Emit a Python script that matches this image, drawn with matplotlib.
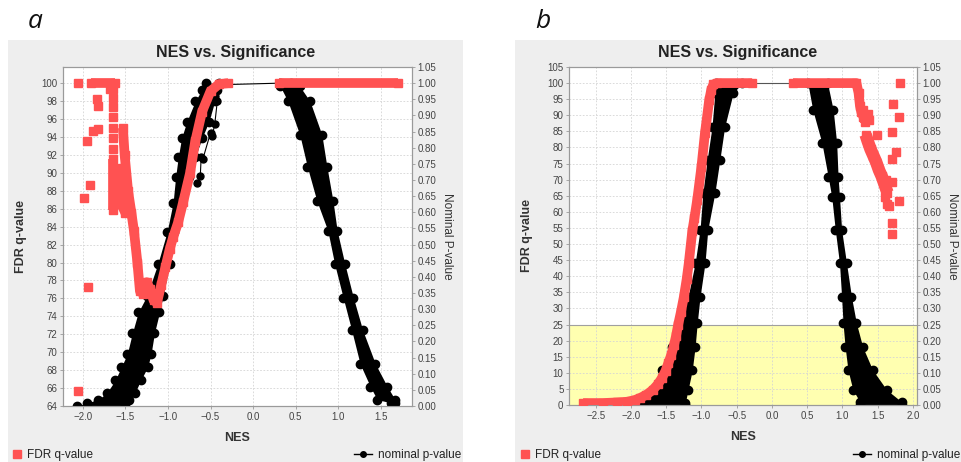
import matplotlib
matplotlib.use("Agg")
import matplotlib.pyplot as plt
from matplotlib.lines import Line2D
from matplotlib.patches import Rectangle
from matplotlib.transforms import blended_transform_factory

RED = '#ff5252'
GRAY_BG = '#eeeeee'
TXT = '#444444'
W, H = 962, 462

plt.rcParams['font.family'] = ['Liberation Sans', 'DejaVu Sans']

# ---------------- panel a data ----------------
# nominal p-value, left (negative NES) band: p level, left / right edge of the cloud
a_neg_p = [0.0, 0.01, 0.02, 0.04, 0.08, 0.12, 0.16, 0.225, 0.29, 0.34, 0.44, 0.54,
           0.63, 0.71, 0.77, 0.83, 0.88, 0.944, 0.98, 1.0]
a_neg_left = [-2.07, -1.95, -1.82, -1.72, -1.62, -1.55, -1.48, -1.42, -1.35, -1.25, -1.12, -1.01,
              -0.94, -0.91, -0.88, -0.84, -0.78, -0.68, -0.60, -0.55]
a_neg_right = [-1.51, -1.50, -1.46, -1.39, -1.32, -1.24, -1.20, -1.16, -1.10, -1.06, -0.98, -0.93,
               -0.84, -0.75, -0.68, -0.60, -0.52, -0.45, -0.42, -0.40]
# right (positive NES) band
a_pos_p = [0.01, 0.02, 0.06, 0.13, 0.235, 0.336, 0.44, 0.543, 0.636, 0.74, 0.84, 0.944, 0.99, 1.0]
a_pos_left = [1.62, 1.46, 1.38, 1.26, 1.16, 1.06, 0.96, 0.88, 0.75, 0.64, 0.55, 0.41, 0.32, 0.32]
a_pos_right = [1.67, 1.67, 1.58, 1.44, 1.29, 1.18, 1.08, 0.99, 0.94, 0.87, 0.81, 0.67, 0.55, 0.45]
# stray p-value points right of the negative band
a_stray_nes = [-0.66, -0.62, -0.61, -0.59, -0.50, -0.48, -0.45, -0.42, -0.45]
a_stray_p = [0.69, 0.713, 0.77, 0.765, 0.846, 0.836, 0.873, 0.944, 0.96]
# connecting line between the two bands
a_top_nes = [-0.40, 0.32]
a_top_p = [0.995, 1.0]

# FDR q-value
a_fdr_nes = [-1.53, -1.51, -1.47, -1.43, -1.40, -1.36, -1.33, -1.29, -1.25, -1.21, -1.17, -1.13,
             -1.08, -1.03, -0.98, -0.94, -0.88, -0.82, -0.74, -0.68, -0.60, -0.50, -0.40, -0.29]
a_fdr_q = [95.0, 92.0, 88.0, 85.5, 83.5, 80.0, 76.8, 76.5, 77.8, 77.0, 75.8, 75.5,
           77.5, 79.5, 81.5, 82.8, 84.5, 86.8, 90.0, 93.5, 96.8, 99.1, 99.9, 100.0]
a_fdr_col_nes = [-1.645, -1.645, -1.57, -1.55, -1.50]
a_fdr_col_q = [91.5, 85.8, 90.5, 86.5, 85.5]
a_fdr_top_nes = [-1.91, -1.62]
a_fdr_plateau_nes = [0.30, 1.71]
a_fdr_dots_nes = [-2.06, -1.68, -1.83, -1.82, -1.88, -1.82, -1.95, -1.92, -1.99, -1.94, -2.06,
                  -1.65, -1.65, -1.65, -1.65, -1.65, -1.65, -1.65]
a_fdr_dots_q = [100.0, 99.3, 98.2, 97.4, 94.7, 94.9, 93.6, 88.6, 87.2, 77.3, 65.7,
                99.4, 98.3, 97.3, 96.2, 95.0, 93.9, 92.7]

# ---------------- panel b data ----------------
b_neg_p = [0.0, 0.006, 0.047, 0.109, 0.18, 0.254, 0.336, 0.44, 0.544, 0.658, 0.76, 0.864, 0.969, 1.0]
b_neg_left = [-1.83, -1.83, -1.69, -1.56, -1.42, -1.30, -1.19, -1.09, -1.02, -0.98, -0.92, -0.85, -0.81, -0.80]
b_neg_right = [-1.23, -1.23, -1.19, -1.13, -1.09, -1.06, -1.02, -0.95, -0.91, -0.81, -0.74, -0.67, -0.55, -0.42]
b_pos_p = [0.0, 0.01, 0.047, 0.109, 0.18, 0.254, 0.336, 0.44, 0.544, 0.646, 0.708, 0.814, 0.917, 1.0]
b_pos_left = [1.25, 1.25, 1.15, 1.08, 1.04, 1.01, 0.99, 0.96, 0.90, 0.85, 0.80, 0.71, 0.58, 0.51]
b_pos_right = [1.84, 1.84, 1.63, 1.43, 1.29, 1.20, 1.13, 1.06, 0.99, 0.96, 0.94, 0.92, 0.87, 0.79]
b_top_nes = [-0.42, 0.51]
b_top_p = [1.0, 1.0]

b_fdr_nes = [-2.68, -2.40, -2.20, -2.06, -1.95, -1.87, -1.78, -1.69, -1.62, -1.56, -1.51, -1.47,
             -1.43, -1.39, -1.36, -1.33, -1.29, -1.25, -1.21, -1.18, -1.13, -1.10, -1.06, -1.00,
             -0.95, -0.89, -0.86, -0.83, -0.78, -0.28]
b_fdr_q = [0.6, 0.6, 0.8, 1.0, 1.5, 2.2, 3.2, 4.7, 6.4, 8.4, 10.6, 13.0,
           15.5, 18.5, 21.5, 25.0, 29.0, 33.5, 39.0, 44.0, 54.0, 58.0, 63.7, 74.0,
           84.5, 94.7, 98.0, 99.6, 100.0, 100.0]
b_fdr_pos_nes = [0.30, 1.20, 1.23, 1.25, 1.27, 1.30, 1.32]
b_fdr_pos_q = [100.0, 100.0, 97.0, 93.0, 91.0, 89.5, 88.0]
b_fdr_drop_nes = [1.33, 1.36, 1.40, 1.44, 1.48, 1.52, 1.56, 1.60, 1.64]
b_fdr_drop_q = [84.0, 82.0, 79.5, 77.5, 75.5, 73.0, 71.0, 68.5, 66.0]
b_fdr_dots_nes = [1.82, 1.72, 1.80, 1.70, 1.76, 1.70, 1.70, 1.80, 1.70, 1.70,
                  1.49, 1.36, 1.30, 1.60, 1.63, 1.66, 1.62, 1.38]
b_fdr_dots_q = [100.0, 93.5, 89.5, 84.8, 78.6, 76.5, 69.3, 63.4, 56.5, 53.0,
                83.9, 90.5, 91.5, 64.5, 62.5, 61.8, 70.0, 88.5]


def make_axes(fig, left, top, right, bottom, xlim, qlim, xticks, qticks, yellow=None):
    rect = [left / W, (H - bottom) / H, (right - left) / W, (bottom - top) / H]
    ax = fig.add_axes(rect)
    ax2 = ax.twinx()
    # red FDR series on top of black p-value series
    ax.set_zorder(ax2.get_zorder() + 1)
    ax.patch.set_visible(False)
    ax2.patch.set_visible(True)
    ax2.patch.set_facecolor('white')

    ax.set_xlim(*xlim)
    ax.set_ylim(*qlim)
    ax2.set_ylim(0, 1.05)
    ax.set_xticks(xticks)
    ax.set_xticklabels([f"{v:.1f}".replace('-', '\u2212') for v in xticks])
    ax.set_yticks(qticks)
    ax.set_yticklabels([str(v) for v in qticks])
    pt = [i * 0.05 for i in range(22)]
    ax2.set_yticks(pt)
    ax2.set_yticklabels([f"{v:.2f}" for v in pt])

    if yellow is not None:
        ax2.axhspan(0, yellow, color='#ffffb0', lw=0, zorder=0.2)
        ax2.axhline(yellow, color='#a0a0a0', lw=0.8, zorder=0.6)

    grid_kw = dict(color='#d4d4d4', lw=0.6, ls=(0, (2, 2)), zorder=0.5)
    ax2.vlines(xticks, 0, 1, transform=blended_transform_factory(ax2.transData, ax2.transAxes), **grid_kw)
    ax2.hlines(qticks, 0, 1, transform=blended_transform_factory(ax2.transAxes, ax.transData), **grid_kw)

    for a in (ax, ax2):
        for s in a.spines.values():
            s.set_color('#9a9a9a')
            s.set_linewidth(0.8)
        a.tick_params(labelsize=7, colors='#9a9a9a', labelcolor=TXT, length=2, width=0.6, pad=2)

    ax.set_xlabel('NES', fontsize=9, fontweight='bold', color='#333333')
    ax.xaxis.set_label_coords(0.5, -0.077)
    ax.set_ylabel('FDR q-value', fontsize=9, fontweight='bold', color='#333333')
    ax.yaxis.set_label_coords(-0.103, 0.5)
    ax2.set_ylabel('Nominal P-value', fontsize=8.5, color='#333333', rotation=270, va='center')
    ax2.yaxis.set_label_coords(1.10, 0.5)
    return ax, ax2


def draw_band(ax2, p, left, right):
    ax2.fill_betweenx(p, left, right, color='black', lw=0, zorder=2)
    ax2.plot(left, p, 'o', color='black', ms=6, zorder=3)
    ax2.plot(right, p, 'o', color='black', ms=6, zorder=3)


def draw_fdr(ax, nes, q, lw=7):
    ax.plot(nes, q, '-', color=RED, lw=lw, solid_capstyle='butt', solid_joinstyle='round', zorder=3)
    ax.plot(nes, q, 's', color=RED, ms=5.2, zorder=3)


fig = plt.figure(figsize=(W / 100, H / 100), dpi=100)
fig.add_artist(Rectangle((8 / W, 0), (463 - 8) / W, 422 / H, transform=fig.transFigure,
                         color=GRAY_BG, lw=0, zorder=-5))
fig.add_artist(Rectangle((515 / W, 0), (962 - 515) / W, 422 / H, transform=fig.transFigure,
                         color=GRAY_BG, lw=0, zorder=-5))

# ---- panel a ----
axa, axa2 = make_axes(fig, 63, 67, 412, 406, (-2.235, 1.87), (64, 101.8),
                      [-2.0, -1.5, -1.0, -0.5, 0.0, 0.5, 1.0, 1.5], list(range(64, 101, 2)))
draw_band(axa2, a_neg_p, a_neg_left, a_neg_right)
draw_band(axa2, a_pos_p, a_pos_left, a_pos_right)
axa2.plot(a_stray_nes, a_stray_p, 'o-', color='black', ms=5, lw=0.8, zorder=3)
axa2.plot(a_top_nes, a_top_p, '-', color='black', lw=0.8, zorder=3)

draw_fdr(axa, a_fdr_nes, a_fdr_q)
draw_fdr(axa, a_fdr_col_nes[:2], a_fdr_col_q[:2])
draw_fdr(axa, a_fdr_col_nes[2:], a_fdr_col_q[2:])
draw_fdr(axa, a_fdr_top_nes, [100, 100])
draw_fdr(axa, a_fdr_plateau_nes, [100, 100])
axa.plot(a_fdr_dots_nes, a_fdr_dots_q, 's', color=RED, ms=5.2, zorder=3)

# ---- panel b ----
axb, axb2 = make_axes(fig, 569, 67, 917, 405, (-2.88, 2.06), (0, 105),
                      [-2.5, -2.0, -1.5, -1.0, -0.5, 0.0, 0.5, 1.0, 1.5, 2.0],
                      list(range(0, 106, 5)), yellow=0.25)
draw_band(axb2, b_neg_p, b_neg_left, b_neg_right)
draw_band(axb2, b_pos_p, b_pos_left, b_pos_right)
axb2.plot(b_top_nes, b_top_p, '-', color='#555555', lw=0.8, zorder=3)

draw_fdr(axb, b_fdr_nes, b_fdr_q)
draw_fdr(axb, b_fdr_pos_nes, b_fdr_pos_q)
draw_fdr(axb, b_fdr_drop_nes, b_fdr_drop_q, lw=9)
axb.plot(b_fdr_dots_nes, b_fdr_dots_q, 's', color=RED, ms=5.2, zorder=3)

# titles and panel letters
for cx, letter, lx in [(236, 'a', 35), (738, 'b', 543)]:
    fig.text(cx / W, 1 - 52 / H, 'NES vs. Significance', ha='center', va='center',
             fontsize=11.5, fontweight='bold', color='#222222')
    fig.text(lx / W, 1 - 22 / H, letter, ha='center', va='center', fontsize=19,
             style='italic', family=['Open Sans', 'DejaVu Sans'], color='#111111')

# legends below each panel
red_h = Line2D([], [], color=RED, marker='s', ls='none', ms=5.5)
blk_h = Line2D([], [], color='black', marker='o', ms=4, lw=1)
leg_kw = dict(frameon=False, fontsize=8.5, borderpad=0, borderaxespad=0, handletextpad=0.5,
              labelcolor='#222222')
fig.legend([red_h], ['FDR q-value'], loc='center left', bbox_to_anchor=(12 / W, 1 - 455 / H),
           handlelength=0.8, **leg_kw)
fig.legend([blk_h], ['nominal p-value'], loc='center right', bbox_to_anchor=(461 / W, 1 - 455 / H),
           handlelength=1.5, **leg_kw)
fig.legend([red_h], ['FDR q-value'], loc='center left', bbox_to_anchor=(520 / W, 1 - 455 / H),
           handlelength=0.8, **leg_kw)
fig.legend([blk_h], ['nominal p-value'], loc='center right', bbox_to_anchor=(960 / W, 1 - 455 / H),
           handlelength=1.5, **leg_kw)

fig.savefig('out.png', dpi=100)
